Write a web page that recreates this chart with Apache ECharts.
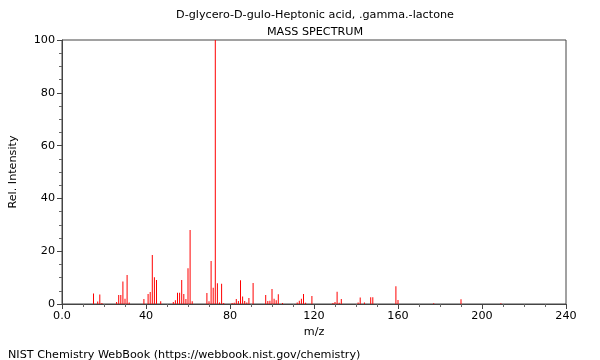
<!DOCTYPE html>
<html>
<head>
<meta charset="utf-8">
<script src="https://cdn.jsdelivr.net/npm/echarts@6/dist/echarts.min.js"></script>
<style>
html,body{margin:0;padding:0;background:#fff;}
#chart{width:600px;height:360px;}
</style>
</head>
<body>
<div id="chart"></div>
<script>
var titleText = "D-glycero-D-gulo-Heptonic acid, .gamma.-lactone";
var subtitleText = "MASS SPECTRUM";
var footerText = "NIST Chemistry WebBook (https://webbook.nist.gov/chemistry)";
var xName = "m/z";
var yName = "Rel. Intensity";

var mz = [15, 17, 18, 19, 26, 27, 28, 29, 30, 31, 32, 39, 41, 42, 43, 44, 45, 47, 53, 54, 55, 56, 57, 58, 59, 60, 61, 62, 69, 70, 71, 72, 73, 74, 75, 76, 77, 81, 82, 83, 84, 85, 86, 87, 88, 89, 91, 97, 98, 99, 100, 101, 102, 103, 105, 112, 113, 114, 115, 116, 119, 129, 130, 131, 132, 133, 141, 142, 144, 147, 148, 159, 160, 177, 190, 209];
var intensity = [4.0, 0.9, 3.6, 0.4, 0.8, 3.4, 3.4, 8.5, 2.0, 11.0, 0.6, 1.9, 3.8, 4.5, 18.6, 10.1, 9.1, 1.0, 0.8, 1.4, 4.3, 4.3, 9.1, 3.8, 1.9, 13.5, 28.0, 1.0, 4.2, 1.0, 16.3, 6.2, 100, 7.9, 0.6, 7.7, 0.4, 0.4, 0.5, 1.9, 1.1, 9.0, 2.8, 1.1, 0.6, 2.3, 8.0, 3.4, 1.1, 1.2, 5.7, 2.0, 1.4, 3.7, 0.4, 0.6, 1.2, 2.0, 3.8, 0.5, 3.0, 0.4, 0.8, 4.6, 0.5, 1.9, 0.6, 2.5, 0.6, 2.6, 2.6, 6.7, 1.5, 0.3, 1.8, 0.3];

var xTickLabels = {0: "0.0", 40: "40", 80: "80", 120: "120", 160: "160", 200: "200", 240: "240"};

var data = mz.map(function (m, i) { return [m, intensity[i]]; });

var font = "DejaVu Sans";
var fs = 11.2;
var chart = echarts.init(document.getElementById('chart'), null, {renderer: 'canvas'});
chart.setOption({
  animation: false,
  backgroundColor: '#fff',
  title: [
    {text: titleText, left: 310, top: 5, textAlign: 'center',
     textStyle: {fontFamily: font, fontSize: fs, fontWeight: 'normal', color: '#000'}},
    {text: subtitleText, left: 310, top: 22, textAlign: 'center',
     textStyle: {fontFamily: font, fontSize: fs, fontWeight: 'normal', color: '#000'}},
    {text: footerText, left: 3, top: 345,
     textStyle: {fontFamily: font, fontSize: fs, fontWeight: 'normal', color: '#000'}}
  ],
  grid: {left: 62, right: 34, top: 40, bottom: 56, show: true, borderColor: '#444', borderWidth: 1, backgroundColor: 'transparent'},
  xAxis: {
    type: 'value', min: 0, max: 240, interval: 40,
    name: xName, nameLocation: 'middle', nameGap: 22,
    nameTextStyle: {fontFamily: font, fontSize: fs, color: '#000'},
    axisLine: {show: true, onZero: false, lineStyle: {color: '#444', width: 1}},
    axisTick: {show: true, length: 5, lineStyle: {color: '#444'}},
    minorTick: {show: true, splitNumber: 4, length: 3, lineStyle: {color: '#666'}},
    axisLabel: {fontFamily: font, fontSize: fs, color: '#000', margin: 7,
      formatter: function (v) { return xTickLabels[v] !== undefined ? xTickLabels[v] : ''; }},
    splitLine: {show: false}
  },
  yAxis: {
    type: 'value', min: 0, max: 100, interval: 20,
    name: yName, nameLocation: 'middle', nameGap: 43, nameRotate: 90,
    nameTextStyle: {fontFamily: font, fontSize: fs, color: '#000'},
    axisLine: {show: true, lineStyle: {color: '#444', width: 1}},
    axisTick: {show: true, length: 5, lineStyle: {color: '#444'}},
    minorTick: {show: true, splitNumber: 4, length: 3, lineStyle: {color: '#666'}},
    axisLabel: {fontFamily: font, fontSize: fs, color: '#000', margin: 7},
    splitLine: {show: false}
  },
  series: [{
    type: 'bar',
    data: data,
    barWidth: 1,
    itemStyle: {color: '#ff0000'},
    emphasis: {disabled: true}
  }]
});
</script>
</body>
</html>
